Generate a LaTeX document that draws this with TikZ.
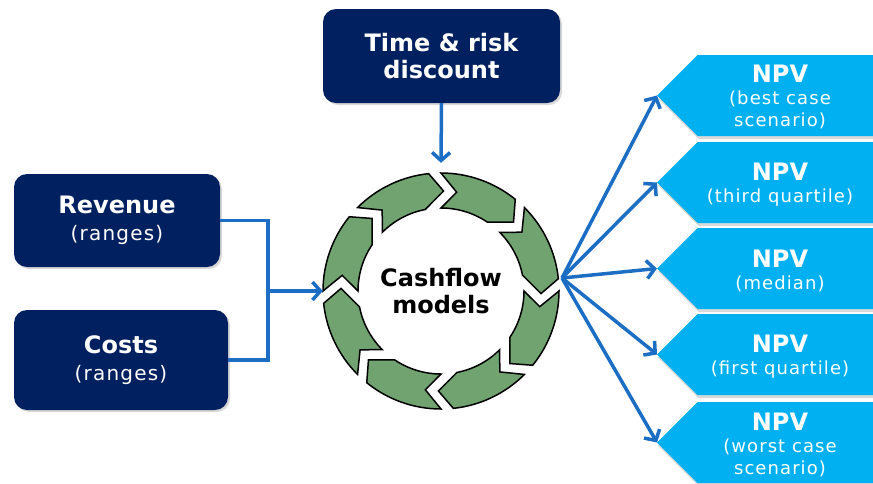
\documentclass[tikz,border=0pt]{standalone}
\usepackage{fontspec}
\setmainfont{DejaVu Sans}
\newfontfamily\regls[LetterSpace=6]{DejaVu Sans}
\usetikzlibrary{arrows.meta,shadows}
\definecolor{navy}{RGB}{0,32,96}
\definecolor{npvblue}{RGB}{0,176,240}
\definecolor{arrblue}{RGB}{28,110,196}
\definecolor{seggreen}{RGB}{113,163,113}
\newcommand\subA{\regls\mdseries\fontsize{20}{25}\selectfont}
\newcommand\subB{\regls\mdseries\fontsize{18}{21}\selectfont}
\tikzset{
  darkbox/.style={draw=none, fill=navy, rounded corners=13pt, text=white, align=center,
    inner sep=0pt, font=\bfseries\fontsize{24}{27}\selectfont,
    drop shadow={shadow xshift=2pt, shadow yshift=-2pt, opacity=0.3}},
  npvshape/.style={fill=npvblue, drop shadow={shadow xshift=1pt, shadow yshift=-3pt, opacity=0.3}},
  npvtext/.style={text=white, align=center, inner sep=0pt, font=\bfseries\fontsize{24}{22}\selectfont},
  arr/.style={draw=arrblue, line width=3.5pt, -{Straight Barb[length=8pt,width=18pt]}},
  link/.style={draw=arrblue, line width=3.5pt},
  seg/.style={fill=seggreen, draw=black, line width=1.5pt, line join=miter},
}
\begin{document}
\begin{tikzpicture}[x=1pt,y=-1pt]
\useasboundingbox (0,0) rectangle (873,483);

% left and top boxes
\node[darkbox, minimum width=237pt, minimum height=94pt] (time) at (441.5,56) {Time \& risk\\discount};
\node[darkbox, minimum width=206pt, minimum height=93pt] (rev) at (117,220.5) {Revenue\\{\subA (ranges)}};
\node[darkbox, minimum width=214pt, minimum height=100pt] (cost) at (121,360) {Costs\\{\subA (ranges)}};

% cycle
\node[circle, minimum size=236pt, inner sep=0pt, align=center, font=\bfseries\fontsize{24}{27}\selectfont] (cyc) at (441,291) {Cashflow\\models};
\begin{scope}[shift={(cyc.center)}]
\foreach \a in {90,135,...,405}{
  \pgfmathsetmacro\b{\a-45}
  \pgfmathsetmacro\ho{\b+6}
  \pgfmathsetmacro\ht{\b-1.5}
  \pgfmathsetmacro\hi{\b+11}
  \pgfmathsetmacro\tn{\a-9}
  \filldraw[seg] (\a:118pt) arc[start angle=\a, end angle=\ho, radius=118pt]
     -- (\ht:100pt) -- (\hi:83pt) arc[start angle=\hi, end angle=\a, radius=83pt]
     -- (\tn:100pt) -- cycle;
}
\end{scope}

% NPV shapes
\foreach \i/\t in {1/55,2/142,3/228,4/314,5/402}{
  \pgfmathsetmacro\bt{\t+81}
  \pgfmathsetmacro\md{\t+40.5}
  \fill[npvshape] (657,\md) -- (697.5,\t) -- (873,\t) -- (873,\bt) -- (697.5,\bt) -- cycle;
  \coordinate (p\i) at (657,\md);
}
\node[npvtext] (n1) at (780,97) {NPV\\{\subB (best case}\\{\subB scenario)}};
\node[npvtext] (n2) at (780,185) {NPV\\{\subB (third quartile)}};
\node[npvtext] (n3) at (780,271) {NPV\\{\subB (median)}};
\node[npvtext] (n4) at (780,357) {NPV\\{\subB (first quartile)}};
\node[npvtext] (n5) at (780,445) {NPV\\{\subB (worst case}\\{\subB scenario)}};

% connectors
\coordinate (j) at (268,291);
\coordinate (src) at (562,278);
\draw[link] (rev.east) -| (j);
\draw[link] (cost.east) -| (j);
\draw[arr] (j) -- (cyc.west);
\draw[arr] (time.south) -- ([yshift=10pt]cyc.north);
\foreach \i in {1,...,5}{
  \draw[arr] (src) -- (p\i);
}
\end{tikzpicture}
\end{document}
